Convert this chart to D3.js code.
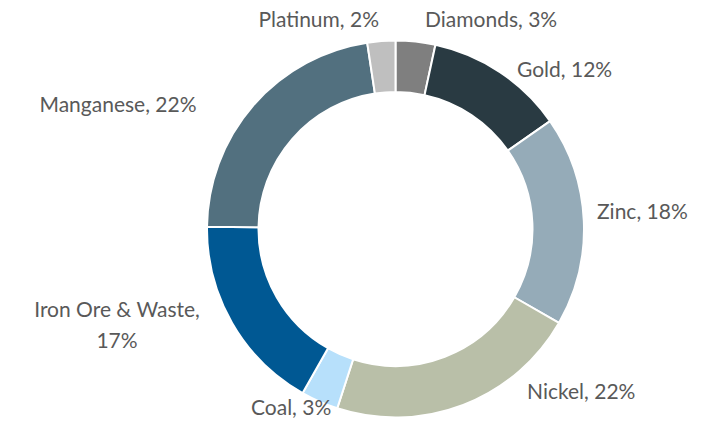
<!DOCTYPE html>
<html>
<head>
<meta charset="utf-8">
<script src="https://cdn.jsdelivr.net/npm/d3@7"></script>
<style>
  html, body { margin: 0; padding: 0; background: #ffffff; }
  svg { display: block; }
  .lbl { font-family: Lato, "Open Sans", sans-serif; font-size: 21px; fill: #595959; }
</style>
</head>
<body>
<svg id="chart" width="708" height="421"></svg>
<script>
// Share of each commodity, clockwise from 12 o'clock
const categories = ["Diamonds", "Gold", "Zinc", "Nickel", "Coal", "Iron Ore & Waste", "Manganese", "Platinum"];
const shares     = [3.4, 11.9, 18.0, 21.7, 3.2, 17.0, 22.4, 2.4];
const sliceColors = ["#7f7f7f", "#293a42", "#95abb8", "#b9bfa8", "#b7e0fb", "#005893", "#52707f", "#bfbfbf"];

// Where each data label sits (x, baseline y, anchor); multi-line labels break after the comma
const labelLayout = {
  "Diamonds":         { x: 425, y: 27,  anchor: "start" },
  "Gold":             { x: 517, y: 77,  anchor: "start" },
  "Zinc":             { x: 597, y: 219, anchor: "start" },
  "Nickel":           { x: 527, y: 399, anchor: "start" },
  "Coal":             { x: 251, y: 415, anchor: "start" },
  "Iron Ore & Waste": { x: 117, y: 317, anchor: "middle", wrap: true },
  "Manganese":        { x: 118, y: 112, anchor: "middle" },
  "Platinum":         { x: 379, y: 27,  anchor: "end" }
};

const svg = d3.select("#chart");
const cx = 395.5, cy = 229, outerR = 188.5, innerR = 137;

const data = categories.map((c, i) => ({ name: c, value: shares[i], color: sliceColors[i] }));
const total = d3.sum(shares);

const pie = d3.pie().value(d => d.value).sort(null).startAngle(0).endAngle(2 * Math.PI);
const arc = d3.arc().innerRadius(innerR).outerRadius(outerR);

const g = svg.append("g").attr("transform", `translate(${cx},${cy})`);
g.selectAll("path")
  .data(pie(data))
  .join("path")
  .attr("d", arc)
  .attr("fill", d => d.data.color)
  .attr("stroke", "#ffffff")
  .attr("stroke-width", 2)
  .attr("stroke-linejoin", "round");

const pct = d => Math.round(d.value / total * 100) + "%";

data.forEach(d => {
  const L = labelLayout[d.name];
  const t = svg.append("text").attr("class", "lbl").attr("text-anchor", L.anchor);
  if (L.wrap) {
    t.append("tspan").attr("x", L.x).attr("y", L.y).text(d.name + ",");
    t.append("tspan").attr("x", L.x).attr("y", L.y + 31).text(pct(d));
  } else {
    t.attr("x", L.x).attr("y", L.y).text(`${d.name}, ${pct(d)}`);
  }
});
</script>
</body>
</html>
